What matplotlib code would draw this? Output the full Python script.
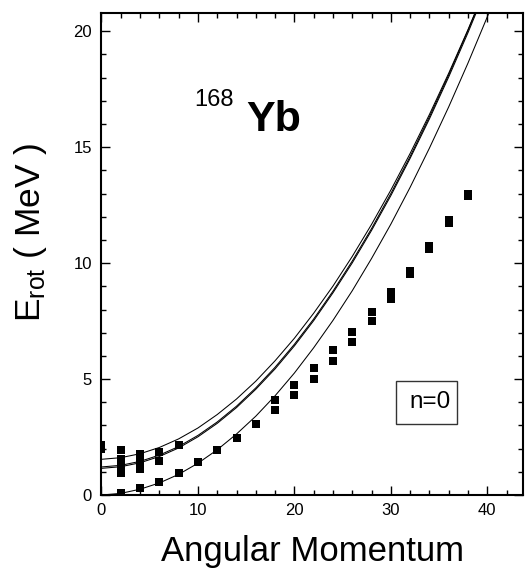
import numpy as np
import matplotlib
matplotlib.use('Agg')
import matplotlib.pyplot as plt
from matplotlib.patches import Rectangle

plt.rcParams['font.family'] = ['Liberation Sans', 'DejaVu Sans']
plt.rcParams['mathtext.fontset'] = 'custom'
plt.rcParams['mathtext.rm'] = 'Liberation Sans'
plt.rcParams['mathtext.it'] = 'Liberation Sans'

# ground band (lower of the pairs)
J_ground = [2, 4, 6, 8, 10, 12, 14, 16, 18, 20, 22, 24, 26, 28, 30, 32, 34, 36, 38]
E_ground = [0.10, 0.30, 0.56, 0.96, 1.41, 1.92, 2.47, 3.05, 3.66, 4.32, 5.01,
            5.79, 6.59, 7.50, 8.45, 9.53, 10.60, 11.75, 12.90]
# second band (upper of the pairs)
J_band2 = [18, 20, 22, 24, 26, 28, 30, 32, 34, 36, 38]
E_band2 = [4.11, 4.75, 5.47, 6.25, 7.04, 7.89, 8.76, 9.67, 10.75, 11.85, 13.00]
# excited band heads at low spin
J_side = [0, 0, 2, 2, 2, 2, 2, 4, 4, 4, 4, 6, 6, 8]
E_side = [1.97, 2.17, 1.96, 1.57, 1.33, 1.15, 0.97, 1.75, 1.55, 1.33, 1.12, 1.87, 1.47, 2.16]

# model curves
J_curve = [0, 2, 4, 6, 8, 10, 12, 14, 16, 18, 20, 22, 24, 26, 28, 30, 32, 34, 36, 38, 40, 42]
E_curve_low = [0.0, 0.07, 0.25, 0.52, 0.89, 1.37, 1.95, 2.63, 3.40, 4.28, 5.26, 6.35,
               7.53, 8.81, 10.20, 11.68, 13.27, 14.96, 16.74, 18.63, 20.62, 22.71]
E_curve_a = [1.54, 1.61, 1.78, 2.05, 2.42, 2.89, 3.47, 4.14, 4.91, 5.79, 6.76, 7.84,
             9.01, 10.29, 11.67, 13.15, 14.73, 16.41, 18.19, 20.07, 22.05, 24.13]
E_curve_b = [1.15, 1.22, 1.39, 1.66, 2.03, 2.51, 3.09, 3.77, 4.56, 5.44, 6.43, 7.52,
             8.72, 10.01, 11.41, 12.91, 14.52, 16.22, 18.03, 19.94, 21.96, 24.08]
E_curve_c = [1.21, 1.28, 1.45, 1.72, 2.09, 2.57, 3.15, 3.83, 4.62, 5.51, 6.50, 7.59,
             8.79, 10.09, 11.49, 13.00, 14.60, 16.31, 18.12, 20.04, 22.06, 24.18]

fig = plt.figure(figsize=(5.28, 5.77), dpi=100)
ax = fig.add_axes([0.1922, 0.1421, 0.7983, 0.8359])

for E in (E_curve_low, E_curve_a, E_curve_b, E_curve_c):
    ax.plot(J_curve, E, color='black', lw=0.75)

for J, E in ((J_ground, E_ground), (J_band2, E_band2), (J_side, E_side)):
    ax.plot(J, E, 's', color='black', ms=5.3, mew=0)

ax.set_xlim(0, 43.7)
ax.set_ylim(0, 20.8)
ax.set_xticks([0, 10, 20, 30, 40])
ax.set_yticks([0, 5, 10, 15, 20])
ax.set_xticks(np.arange(0, 44, 2), minor=True)
ax.set_yticks(np.arange(0, 21, 1), minor=True)
ax.tick_params(which='both', direction='in', top=True, right=True, width=1.0)
ax.tick_params(which='major', length=6.5, labelsize=12)
ax.tick_params(axis='y', which='major', pad=7)
ax.tick_params(axis='x', which='major', pad=6)
ax.tick_params(which='minor', length=3.5)
for s in ax.spines.values():
    s.set_linewidth(1.5)

ax.set_xlabel('Angular Momentum', fontsize=25, labelpad=12)
ax.text(-0.168, 0.545, r'E$_{\rm rot}$ ( MeV )', transform=ax.transAxes,
        rotation=90, fontsize=25.5, ha='center', va='center')

ax.text(0.219, 0.807, '168', transform=ax.transAxes, fontsize=17, ha='left', va='baseline')
ax.text(0.344, 0.755, 'Yb', transform=ax.transAxes, fontsize=31, fontweight='bold',
        ha='left', va='baseline')

ax.add_patch(Rectangle((0.698, 0.147), 0.145, 0.090, transform=ax.transAxes,
                       fill=False, ec='#333333', lw=1.0))
ax.text(0.779, 0.192, 'n=0', transform=ax.transAxes, fontsize=17.5, ha='center', va='center')

fig.savefig('out.png', dpi=100)
